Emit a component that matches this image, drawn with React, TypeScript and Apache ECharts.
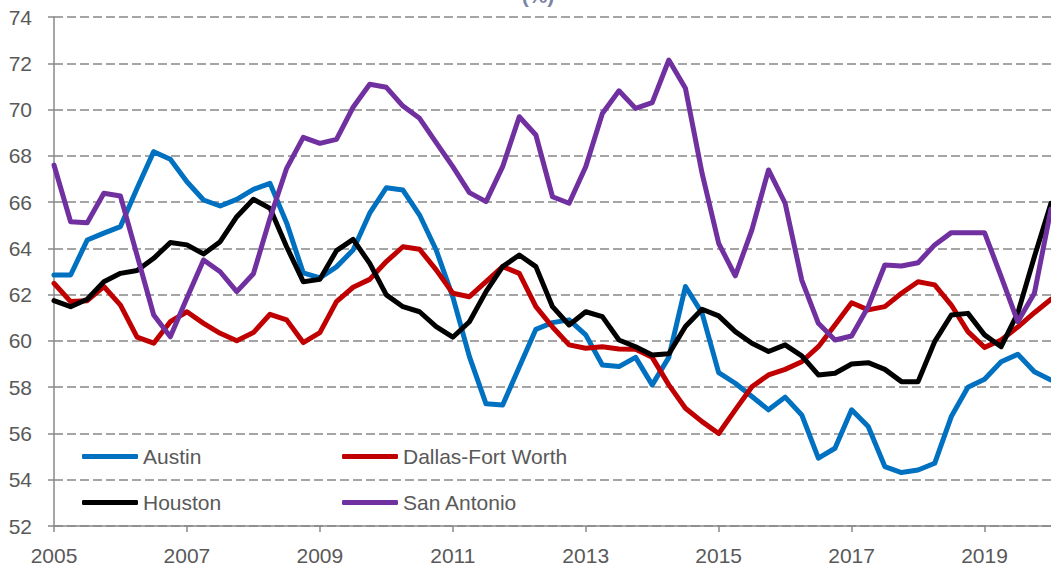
import React, { useEffect, useRef } from "react";
import * as echarts from "echarts";

const years = ["2005","2006","2007","2008","2009","2010","2011","2012","2013","2014","2015","2016","2017","2018","2019","2020"];
const quarters = ["Q1", "Q2", "Q3", "Q4"];
const categories: string[] = [];
years.forEach((y, i) => {
  quarters.forEach((q, j) => {
    if (i < years.length - 1 || j === 0) categories.push(y + q);
  });
});

const austin = [62.85,62.85,64.36,64.66,64.94,66.6,68.18,67.85,66.88,66.09,65.83,66.12,66.55,66.81,65.1,62.94,62.72,63.2,63.93,65.52,66.62,66.52,65.44,63.93,61.9,59.32,57.28,57.23,58.87,60.5,60.79,60.91,60.26,58.96,58.89,59.29,58.1,59.29,62.35,61.2,58.63,58.17,57.6,57.02,57.57,56.8,54.93,55.36,57.02,56.3,54.57,54.31,54.42,54.71,56.73,58.0,58.34,59.1,59.42,58.67,58.31];
const dallas = [62.49,61.7,61.74,62.35,61.55,60.16,59.9,60.83,61.26,60.76,60.33,60.01,60.36,61.15,60.91,59.93,60.36,61.7,62.32,62.66,63.43,64.07,63.96,63.07,62.06,61.91,62.56,63.21,62.92,61.48,60.6,59.83,59.68,59.75,59.65,59.64,59.29,58.1,57.09,56.51,56.0,57.02,58.02,58.53,58.77,59.1,59.75,60.69,61.65,61.34,61.48,62.06,62.56,62.42,61.55,60.4,59.72,60.04,60.6,61.22,61.8];
const houston = [61.74,61.48,61.8,62.56,62.92,63.04,63.57,64.25,64.15,63.76,64.29,65.37,66.12,65.73,64.07,62.56,62.66,63.9,64.39,63.35,61.99,61.48,61.26,60.62,60.16,60.83,62.13,63.21,63.71,63.21,61.48,60.69,61.26,61.05,60.04,59.75,59.39,59.44,60.62,61.37,61.08,60.4,59.9,59.54,59.83,59.35,58.53,58.6,59.0,59.06,58.77,58.24,58.24,59.97,61.12,61.19,60.26,59.75,61.2,63.64,65.95];
const sanAntonio = [67.6,65.15,65.11,66.38,66.26,63.7,61.12,60.18,61.85,63.5,62.99,62.13,62.9,65.3,67.46,68.8,68.54,68.71,70.1,71.09,70.96,70.15,69.62,68.57,67.53,66.41,66.02,67.53,69.69,68.9,66.23,65.95,67.53,69.83,70.81,70.05,70.3,72.14,70.92,67.25,64.22,62.81,64.8,67.39,65.95,62.63,60.76,60.04,60.21,61.48,63.28,63.24,63.38,64.15,64.68,64.68,64.68,62.78,60.83,62.06,65.7];

const seriesNames = ["Austin", "Dallas-Fort Worth", "Houston", "San Antonio"];
const seriesColors = ["#0070C0", "#C00000", "#000000", "#7030A0"];
const seriesData = [austin, dallas, houston, sanAntonio];
const titleText = "(%)";

const FONT = "'Liberation Sans', Arial, sans-serif";
const TEXT_COLOR = "#595959";
const AXIS_COLOR = "#898989";

export default function App() {
  const ref = useRef<HTMLDivElement>(null);
  useEffect(() => {
    document.body.style.margin = "0";
    if (!ref.current) return;
    const chart = echarts.init(ref.current, undefined, { renderer: "svg" });
    const legendCommon = {
      orient: "vertical" as const,
      padding: 0,
      itemGap: 25,
      itemWidth: 56,
      itemHeight: 5,
      icon: "roundRect",
      textStyle: { fontSize: 21, color: TEXT_COLOR, fontFamily: FONT },
      selectedMode: false,
    };
    chart.setOption({
      animation: false,
      textStyle: { fontFamily: FONT },
      graphic: [
        {
          type: "text",
          x: 538,
          y: 6,
          style: {
            text: titleText,
            fontSize: 21,
            fontWeight: "bold",
            fill: "#7b84a4",
            fontFamily: FONT,
            textAlign: "center",
            textVerticalAlign: "bottom",
          },
        },
      ],
      legend: [
        { ...legendCommon, left: 82, top: 446, data: [seriesNames[0], seriesNames[2]] },
        { ...legendCommon, left: 342, top: 446, data: [seriesNames[1], seriesNames[3]] },
      ],
      grid: { left: 54, right: 0, top: 17, bottom: 45, containLabel: false },
      xAxis: {
        type: "category",
        data: categories,
        boundaryGap: false,
        axisLine: { show: true, lineStyle: { color: AXIS_COLOR, width: 1.5 } },
        axisTick: { show: true, interval: 7, length: 6, lineStyle: { color: AXIS_COLOR, width: 1.5 } },
        axisLabel: {
          interval: 7,
          margin: 19,
          fontSize: 21,
          color: TEXT_COLOR,
          fontFamily: FONT,
          formatter: (v: string) => v.slice(0, 4),
        },
        splitLine: { show: false },
      },
      yAxis: {
        type: "value",
        min: 52,
        max: 74,
        interval: 2,
        axisLine: { show: true, lineStyle: { color: AXIS_COLOR, width: 1.5 } },
        axisTick: { show: true, length: 6, lineStyle: { color: AXIS_COLOR, width: 1.5 } },
        axisLabel: { margin: 22, fontSize: 21, color: TEXT_COLOR, fontFamily: FONT },
        splitLine: { show: true, lineStyle: { color: "#888888", width: 1.5, type: [9, 4] } },
      },
      series: seriesNames.map((name, i) => ({
        name,
        type: "line",
        data: seriesData[i],
        showSymbol: false,
        symbol: "none",
        color: seriesColors[i],
        lineStyle: { color: seriesColors[i], width: 5, cap: "round", join: "round" },
        emphasis: { disabled: true },
      })),
    });
    return () => chart.dispose();
  }, []);
  return <div ref={ref} style={{ width: 1051, height: 571 }} />;
}
